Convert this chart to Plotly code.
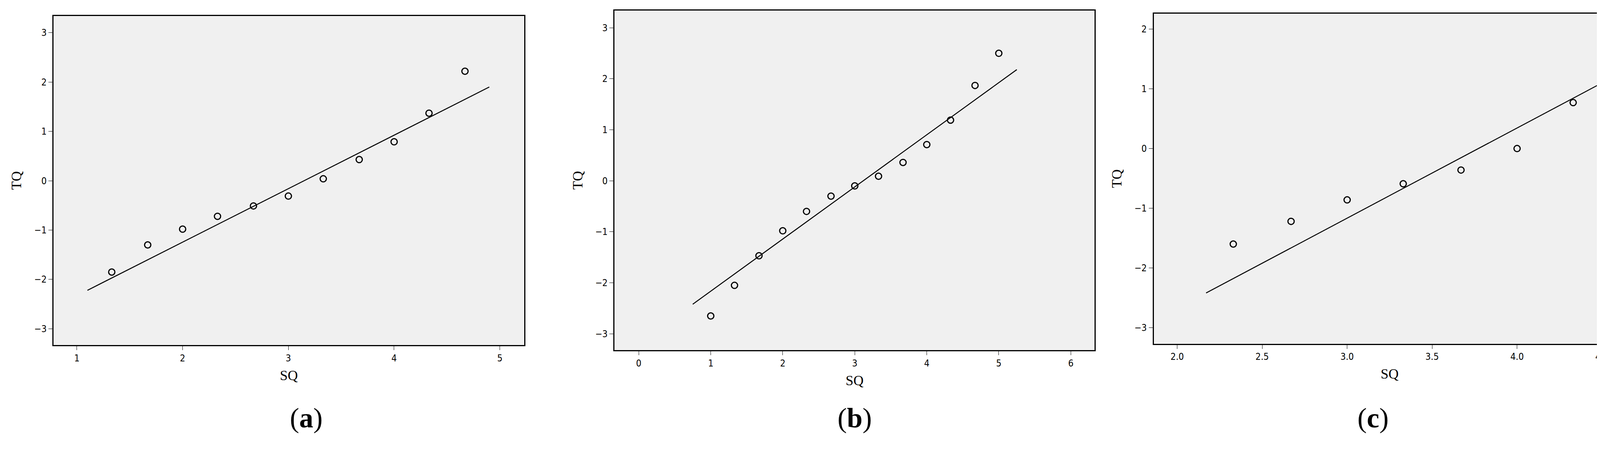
import plotly.graph_objects as go

# panel (a)
sq_a = [1.33, 1.67, 2.0, 2.33, 2.67, 3.0, 3.33, 3.67, 4.0, 4.33, 4.67]
tq_a = [-1.85, -1.3, -0.98, -0.72, -0.51, -0.31, 0.04, 0.43, 0.79, 1.37, 2.22]
fit_a_x = [1.1, 4.9]
fit_a_y = [-2.22, 1.9]

# panel (b)
sq_b = [1.0, 1.33, 1.67, 2.0, 2.33, 2.67, 3.0, 3.33, 3.67, 4.0, 4.33, 4.67, 5.0]
tq_b = [-2.65, -2.05, -1.47, -0.98, -0.6, -0.3, -0.1, 0.09, 0.36, 0.71, 1.19, 1.87, 2.5]
fit_b_x = [0.75, 5.25]
fit_b_y = [-2.42, 2.18]

# panel (c)
sq_c = [2.33, 2.67, 3.0, 3.33, 3.67, 4.0, 4.33]
tq_c = [-1.6, -1.22, -0.86, -0.59, -0.36, 0.0, 0.77]
fit_c_x = [2.17, 4.5]
fit_c_y = [-2.42, 1.1]

panels = [
    (sq_a, tq_a, fit_a_x, fit_a_y, [0.0307, 0.317], [0.255, 0.972], [0.78, 5.23], [-3.33, 3.34], [1, 2, 3, 4, 5], [-3, -2, -1, 0, 1, 2, 3], "a"),
    (sq_b, tq_b, fit_b_x, fit_b_y, [0.372, 0.664], [0.244, 0.984], [-0.335, 6.33], [-3.32, 3.34], [0, 1, 2, 3, 4, 5, 6], [-3, -2, -1, 0, 1, 2, 3], "b"),
    (sq_c, tq_c, fit_c_x, fit_c_y, [0.700, 0.987], [0.258, 0.977], [1.862, 4.638], [-3.27, 2.26], [2.0, 2.5, 3.0, 3.5, 4.0, 4.5], [-3, -2, -1, 0, 1, 2], "c"),
]

fig = go.Figure()
layout = {}
annotations = []
for i, (xs, ys, fx, fy, dx, dy, rx, ry, tx, ty, name) in enumerate(panels):
    n = "" if i == 0 else str(i + 1)
    fig.add_trace(go.Scatter(x=fx, y=fy, mode="lines", line=dict(color="black", width=2.5),
                             xaxis="x" + n, yaxis="y" + n, showlegend=False))
    fig.add_trace(go.Scatter(x=xs, y=ys, mode="markers",
                             marker=dict(symbol="circle-open", size=16, color="black", line=dict(width=3)),
                             xaxis="x" + n, yaxis="y" + n, showlegend=False))
    ticktext = [f"{t:.1f}" for t in tx] if name == "c" else [str(t) for t in tx]
    axfont = dict(family="Liberation Sans Narrow, DejaVu Sans Condensed, sans-serif", size=24, color="black")
    layout["xaxis" + n] = dict(domain=dx, range=rx, anchor="y" + n, tickvals=tx, ticktext=ticktext,
                               ticks="outside", ticklen=10, tickcolor="black", tickfont=axfont,
                               showgrid=False, zeroline=False, showline=True, linecolor="black", linewidth=3,
                               mirror=True,
                               title=dict(text="SQ", font=dict(family="Liberation Serif", size=36, color="black"), standoff=18))
    layout["yaxis" + n] = dict(domain=dy, range=ry, anchor="x" + n, tickvals=ty,
                               ticks="outside", ticklen=10, tickcolor="black", tickfont=axfont,
                               showgrid=False, zeroline=False, showline=True, linecolor="black", linewidth=3,
                               mirror=True,
                               title=dict(text="TQ", font=dict(family="Liberation Serif", size=36, color="black"), standoff=22))
    annotations.append(dict(text=f"(<b>{name}</b>)", x=(dx[0] + dx[1]) / 2, y=0.06, xref="paper", yref="paper",
                            showarrow=False, font=dict(family="Liberation Serif", size=72, color="black")))

fig.update_layout(**layout)
fig.update_layout(width=4208, height=1176, margin=dict(l=0, r=0, t=0, b=0),
                  paper_bgcolor="white", plot_bgcolor="#f0f0f0", annotations=annotations)
fig.write_html("out.html")
